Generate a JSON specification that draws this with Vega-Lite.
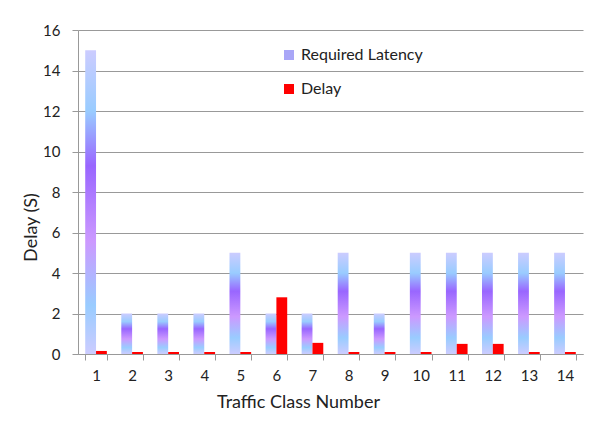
{
  "$schema": "https://vega.github.io/schema/vega-lite/v6.json",
  "width": 505,
  "height": 324,
  "autosize": {"type": "none"},
  "padding": {"left": 78, "top": 30, "right": 30, "bottom": 76},
  "background": "white",
  "config": {
    "view": {"stroke": null},
    "font": "Lato",
    "axis": {
      "domainColor": "#999999",
      "tickColor": "#999999",
      "gridColor": "#999999",
      "labelColor": "#222222",
      "titleColor": "#222222",
      "labelFont": "Lato",
      "titleFont": "Lato",
      "labelFontSize": 15,
      "titleFontSize": 18,
      "titleFontWeight": "normal",
      "tickSize": 6
    }
  },
  "data": {
    "values": [
      {"cls": 1, "series": "Required Latency", "value": 15},
      {"cls": 2, "series": "Required Latency", "value": 2},
      {"cls": 3, "series": "Required Latency", "value": 2},
      {"cls": 4, "series": "Required Latency", "value": 2},
      {"cls": 5, "series": "Required Latency", "value": 5},
      {"cls": 6, "series": "Required Latency", "value": 2},
      {"cls": 7, "series": "Required Latency", "value": 2},
      {"cls": 8, "series": "Required Latency", "value": 5},
      {"cls": 9, "series": "Required Latency", "value": 2},
      {"cls": 10, "series": "Required Latency", "value": 5},
      {"cls": 11, "series": "Required Latency", "value": 5},
      {"cls": 12, "series": "Required Latency", "value": 5},
      {"cls": 13, "series": "Required Latency", "value": 5},
      {"cls": 14, "series": "Required Latency", "value": 5},
      {"cls": 1, "series": "Delay", "value": 0.15},
      {"cls": 2, "series": "Delay", "value": 0.1},
      {"cls": 3, "series": "Delay", "value": 0.1},
      {"cls": 4, "series": "Delay", "value": 0.1},
      {"cls": 5, "series": "Delay", "value": 0.1},
      {"cls": 6, "series": "Delay", "value": 2.8},
      {"cls": 7, "series": "Delay", "value": 0.55},
      {"cls": 8, "series": "Delay", "value": 0.1},
      {"cls": 9, "series": "Delay", "value": 0.1},
      {"cls": 10, "series": "Delay", "value": 0.1},
      {"cls": 11, "series": "Delay", "value": 0.5},
      {"cls": 12, "series": "Delay", "value": 0.5},
      {"cls": 13, "series": "Delay", "value": 0.1},
      {"cls": 14, "series": "Delay", "value": 0.1}
    ]
  },
  "encoding": {
    "x": {
      "field": "cls",
      "type": "ordinal",
      "scale": {"paddingInner": 0.4, "paddingOuter": 0.2},
      "axis": {
        "title": "Traffic Class Number",
        "labelAngle": 0,
        "tickBand": "extent",
        "labelPadding": 8,
        "titleX": 220,
        "titleY": 48,
        "titleBaseline": "middle",
        "titleAlign": "center"
      }
    },
    "xOffset": {
      "field": "series",
      "type": "nominal",
      "scale": {"domain": ["Required Latency", "Delay"]}
    },
    "y": {
      "field": "value",
      "type": "quantitative",
      "scale": {"domain": [0, 16], "nice": false},
      "axis": {
        "title": "Delay (S)",
        "values": [0, 2, 4, 6, 8, 10, 12, 14, 16],
        "grid": true,
        "labelPadding": 12,
        "titleX": -47,
        "titleY": 197,
        "titleBaseline": "middle",
        "titleAlign": "center"
      }
    }
  },
  "layer": [
    {
      "transform": [{"filter": "datum.series == 'Required Latency'"}],
      "mark": {
        "type": "bar",
        "fill": {
          "gradient": "linear",
          "x1": 0, "y1": 0, "x2": 0, "y2": 1,
          "stops": [
            {"offset": 0, "color": "#ccccff"},
            {"offset": 0.2, "color": "#99ccff"},
            {"offset": 0.38, "color": "#9966ff"},
            {"offset": 0.63, "color": "#cc99ff"},
            {"offset": 0.84, "color": "#99ccff"},
            {"offset": 1, "color": "#ccccff"}
          ]
        }
      }
    },
    {
      "transform": [{"filter": "datum.series == 'Delay'"}],
      "mark": {"type": "bar"},
      "encoding": {
        "color": {
          "field": "series",
          "type": "nominal",
          "scale": {"domain": ["Required Latency", "Delay"], "range": ["#a9a6f7", "#ff0000"]},
          "legend": {
            "title": null,
            "orient": "none",
            "legendX": 203,
            "legendY": 17,
            "symbolType": "square",
            "symbolSize": 100,
            "symbolStrokeWidth": 0,
            "labelFontSize": 16,
            "labelColor": "#222222",
            "labelFont": "Lato",
            "rowPadding": 18,
            "labelOffset": 4
          }
        }
      }
    }
  ]
}
